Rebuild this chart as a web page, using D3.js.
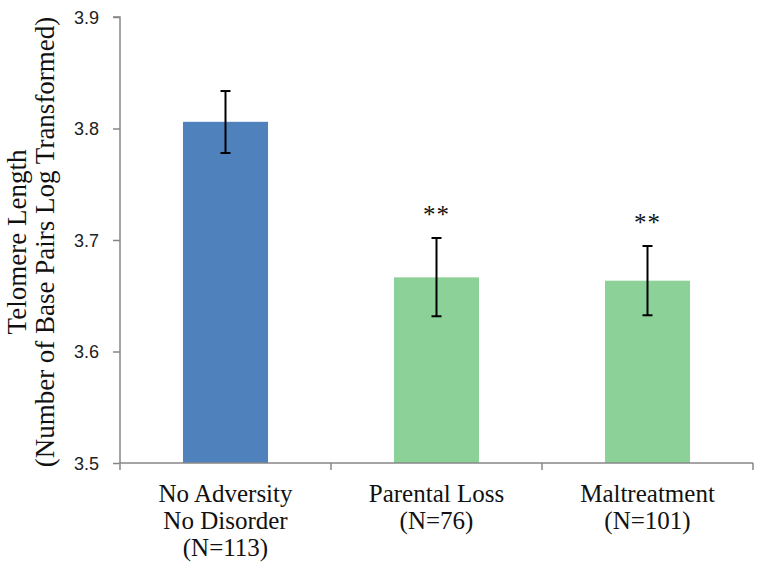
<!DOCTYPE html>
<html><head><meta charset="utf-8">
<script src="https://cdn.jsdelivr.net/npm/d3@7"></script>
<style>body{margin:0;background:#fff}svg{display:block}</style>
</head><body>
<script>
const categories = [["No Adversity","No Disorder","(N=113)"],["Parental Loss","(N=76)"],["Maltreatment","(N=101)"]];
const means = [3.806, 3.6665, 3.6635];
const errUpper = [3.8336, 3.7018, 3.6946];
const errLower = [3.7780, 3.6316, 3.6325];
const sigLabels = ["", "**", "**"];
const barColors = ["#4F81BD", "#8CD298", "#8CD298"];
const yTicks = [3.5, 3.6, 3.7, 3.8, 3.9];
const yTitle = ["Telomere Length", "(Number of Base Pairs Log Transformed)"];

const W = 764, H = 572;
const m = {left:120, right:11, top:17, bottom:109};
const svg = d3.select("body").append("svg").attr("width", W).attr("height", H);
const idx = d3.range(categories.length);
const x = d3.scaleBand().domain(idx).range([m.left, W - m.right]).paddingInner(0.597).paddingOuter(0.2985);
const y = d3.scaleLinear().domain([3.5, 3.9]).range([H - m.bottom, m.top]);

// bars
svg.selectAll("rect.bar").data(idx).enter().append("rect")
  .attr("x", i => x(i)).attr("width", x.bandwidth())
  .attr("y", i => y(means[i])).attr("height", i => y(3.5) - y(means[i]))
  .attr("fill", i => barColors[i]);

// axes
const axisColor = "#878787";
const yAxis = svg.append("g").attr("transform", `translate(${m.left},0)`)
  .call(d3.axisLeft(y).tickValues(yTicks).tickFormat(d3.format(".1f")).tickSize(7).tickPadding(14));
yAxis.select(".domain").attr("stroke", axisColor).attr("stroke-width", 1.5).attr("d", `M-7,${y(3.9)}H0V${y(3.5)}`);
yAxis.selectAll(".tick line").attr("stroke", axisColor).attr("stroke-width", 1.5);
yAxis.selectAll(".tick text").attr("font-family", "'Liberation Sans', Arial, sans-serif").attr("font-size", 18).attr("fill", "#222").attr("dy", "0.36em");

const xb = d3.scaleLinear().domain([0, 3]).range([m.left, W - m.right]);
const xg = svg.append("g").attr("transform", `translate(0,${y(3.5)})`);
xg.append("line").attr("x1", m.left).attr("x2", W - m.right).attr("stroke", axisColor).attr("stroke-width", 1.5);
xg.selectAll("line.t").data([0,1,2,3]).enter().append("line")
  .attr("x1", d => xb(d)).attr("x2", d => xb(d)).attr("y1", 0).attr("y2", 7)
  .attr("stroke", axisColor).attr("stroke-width", 1.5);

// error bars
const eb = svg.append("g").attr("stroke", "#000").attr("stroke-width", 2);
idx.forEach(i => {
  const cx = x(i) + x.bandwidth()/2;
  eb.append("line").attr("x1", cx).attr("x2", cx).attr("y1", y(errUpper[i])).attr("y2", y(errLower[i]));
  eb.append("line").attr("x1", cx-5).attr("x2", cx+5).attr("y1", y(errUpper[i])).attr("y2", y(errUpper[i]));
  eb.append("line").attr("x1", cx-5).attr("x2", cx+5).attr("y1", y(errLower[i])).attr("y2", y(errLower[i]));
});

const serif = "'Liberation Serif', 'Times New Roman', serif";
// significance
svg.selectAll("text.sig").data(idx).enter().append("text")
  .attr("x", i => x(i) + x.bandwidth()/2).attr("y", i => y(errUpper[i]) - 15)
  .attr("text-anchor", "middle").attr("font-family", serif)
  .attr("font-size", 25).attr("letter-spacing", 1).attr("fill", "#111").text(i => sigLabels[i]);

// category labels
idx.forEach(i => {
  const cx = x(i) + x.bandwidth()/2;
  const t = svg.append("text").attr("text-anchor", "middle").attr("font-family", serif).attr("font-size", 25).attr("fill", "#111");
  categories[i].forEach((s, k) => t.append("tspan").attr("x", cx).attr("y", 502 + k*27).text(s));
});

// y title
const yt = svg.append("text").attr("transform", "translate(0,242) rotate(-90)")
  .attr("text-anchor", "middle").attr("font-family", serif).attr("font-size", 27).attr("fill", "#111");
yTitle.forEach((s, k) => yt.append("tspan").attr("x", 0).attr("y", 26 + k*28).text(s));
</script>
</body></html>
